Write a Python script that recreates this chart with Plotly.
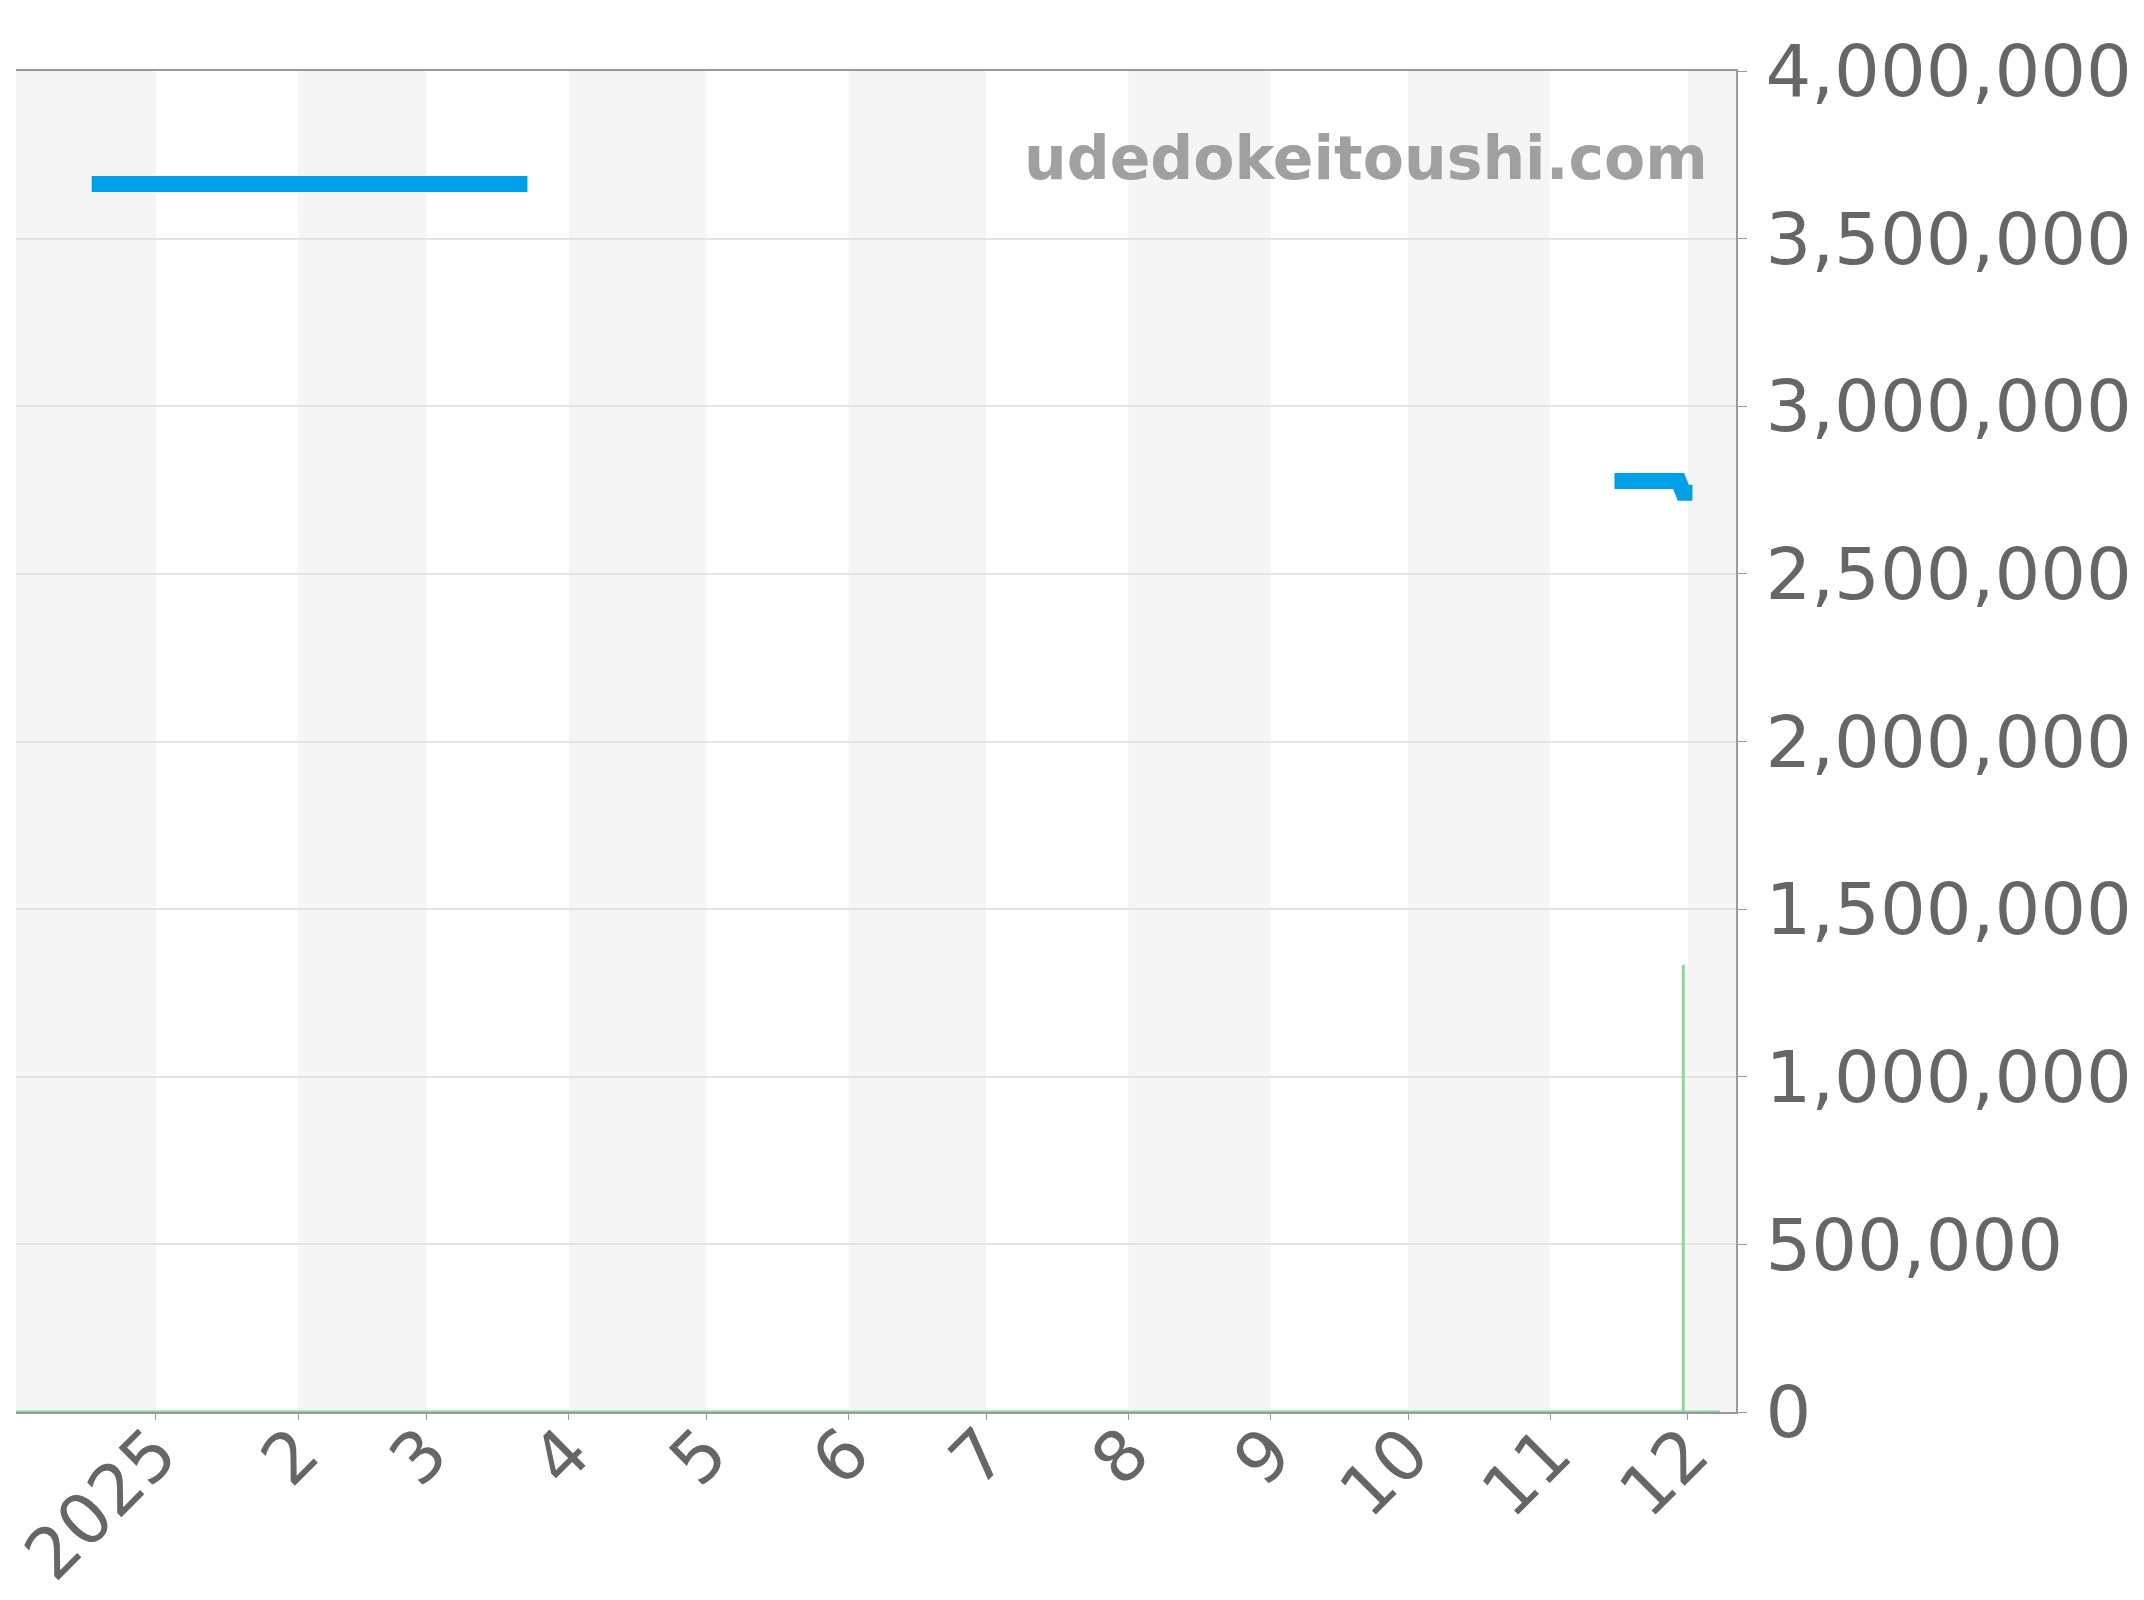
import plotly.graph_objects as go

# price series (gaps = no listing)
blue_dates = ["2024-12-18", "2025-03-23", "2025-06-01", "2025-11-15", "2025-11-29", "2025-11-30", "2025-12-02"]
blue_values = [3663000, 3663000, None, 2777000, 2777000, 2742000, 2742000]

# volume-like series
green_dates = ["2024-12-01", "2025-11-30", "2025-11-30", "2025-11-30", "2025-12-08"]
green_values = [0, 0, 1334000, 0, 0]

month_ticks = ["2025-01-01", "2025-02-01", "2025-03-01", "2025-04-01", "2025-05-01", "2025-06-01",
               "2025-07-01", "2025-08-01", "2025-09-01", "2025-10-01", "2025-11-01", "2025-12-01"]
month_labels = ["2025", "2", "3", "4", "5", "6", "7", "8", "9", "10", "11", "12"]

x_range = ["2024-12-01 12:00", "2025-12-11 12:00"]
stripe_starts = [x_range[0], "2025-02-01", "2025-04-01", "2025-06-01", "2025-08-01", "2025-10-01", "2025-12-01"]
stripe_ends = ["2025-01-01", "2025-03-01", "2025-05-01", "2025-07-01", "2025-09-01", "2025-11-01", x_range[1]]

font = "DejaVu Sans"
grey_txt = "#666666"
spine = "#999999"

fig = go.Figure()

fig.add_trace(go.Scatter(
    x=green_dates, y=green_values, mode="lines",
    line=dict(color="#8ad79b", width=3), hoverinfo="skip"
))
fig.add_trace(go.Scatter(
    x=blue_dates, y=blue_values, mode="lines", connectgaps=False,
    line=dict(color="#00a0e9", width=16), hoverinfo="skip"
))

for s, e in zip(stripe_starts, stripe_ends):
    fig.add_shape(type="rect", xref="x", yref="paper", x0=s, x1=e, y0=0, y1=1,
                  fillcolor="#f5f5f5", line=dict(width=0), layer="below")

fig.add_annotation(
    text="<b>udedokeitoushi.com</b>", xref="paper", yref="paper",
    x=0.985, y=0.935, xanchor="right", yanchor="middle", showarrow=False,
    font=dict(family=font, size=60, color="#a0a0a0")
)

fig.update_layout(
    width=2144, height=1600,
    margin=dict(l=8, r=416, t=63, b=196),
    paper_bgcolor="white", plot_bgcolor="white",
    showlegend=False,
    font=dict(family=font, color=grey_txt),
)

fig.update_xaxes(
    type="date", range=x_range, automargin=False, ticklabeloverflow="allow",
    tickvals=month_ticks, ticktext=month_labels, tickangle=-45,
    tickfont=dict(family=font, size=70, color=grey_txt),
    ticks="outside", ticklen=6, tickcolor=spine, ticklabelstandoff=-36,
    showgrid=False, zeroline=False,
    showline=True, linecolor=spine, linewidth=2, mirror=True,
    layer="below traces",
)
fig.update_yaxes(
    side="right", range=[0, 4000000], dtick=500000, tickformat=",", automargin=False,
    ticklabeloverflow="allow",
    tickfont=dict(family=font, size=72, color=grey_txt),
    ticks="outside", ticklen=9, tickcolor=spine, ticklabelstandoff=4,
    showgrid=True, gridcolor="#e3e3e3", gridwidth=1.5, zeroline=False,
    showline=True, linecolor=spine, linewidth=2,
    layer="below traces",
)

fig.write_html("out.html")
